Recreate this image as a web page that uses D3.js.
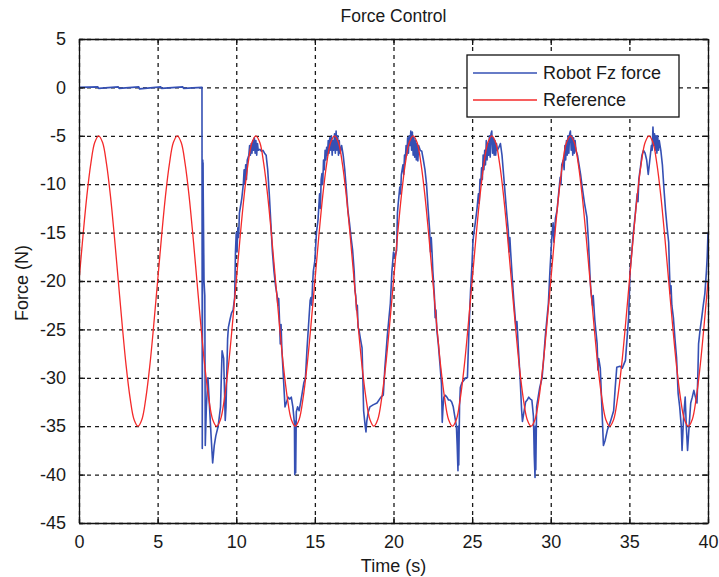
<!DOCTYPE html>
<html>
<head>
<meta charset="utf-8">
<script src="https://cdn.jsdelivr.net/npm/d3@7"></script>
<style>
  html, body { margin: 0; padding: 0; background: #fff; }
  svg { display: block; font-family: "Liberation Sans", Arial, sans-serif; }
</style>
</head>
<body>
<svg id="chart" width="719" height="577"></svg>
<script>
// ---------- data ----------
const xTicks = [0, 5, 10, 15, 20, 25, 30, 35, 40];
const yTicks = [5, 0, -5, -10, -15, -20, -25, -30, -35, -40, -45];
const seriesNames = ["Robot Fz force", "Reference"];

// Reference force, sampled every 0.25 s from 0 to 40 s
const refStep = 0.25;
const refValues = [
  -20, -15.4, -11.2, -7.9, -5.7, -5, -5.7, -7.9, -11.2, -15.4, -20, -24.6, -28.8, -32.1, -34.3, -35, -34.3, -32.1, -28.8, -24.6,
  -20, -15.4, -11.2, -7.9, -5.7, -5, -5.7, -7.9, -11.2, -15.4, -20, -24.6, -28.8, -32.1, -34.3, -35, -34.3, -32.1, -28.8, -24.6,
  -20, -15.4, -11.2, -7.9, -5.7, -5, -5.7, -7.9, -11.2, -15.4, -20, -24.6, -28.8, -32.1, -34.3, -35, -34.3, -32.1, -28.8, -24.6,
  -20, -15.4, -11.2, -7.9, -5.7, -5, -5.7, -7.9, -11.2, -15.4, -20, -24.6, -28.8, -32.1, -34.3, -35, -34.3, -32.1, -28.8, -24.6,
  -20, -15.4, -11.2, -7.9, -5.7, -5, -5.7, -7.9, -11.2, -15.4, -20, -24.6, -28.8, -32.1, -34.3, -35, -34.3, -32.1, -28.8, -24.6,
  -20, -15.4, -11.2, -7.9, -5.7, -5, -5.7, -7.9, -11.2, -15.4, -20, -24.6, -28.8, -32.1, -34.3, -35, -34.3, -32.1, -28.8, -24.6,
  -20, -15.4, -11.2, -7.9, -5.7, -5, -5.7, -7.9, -11.2, -15.4, -20, -24.6, -28.8, -32.1, -34.3, -35, -34.3, -32.1, -28.8, -24.6,
  -20, -15.4, -11.2, -7.9, -5.7, -5, -5.7, -7.9, -11.2, -15.4, -20, -24.6, -28.8, -32.1, -34.3, -35, -34.3, -32.1, -28.8, -24.6,
  -20
];

// Measured robot Fz force: [time (s), force (N)]
const robotForce = [
  [0,0],[1.2,0.05],[1.25,-0.1],[2.5,0.05],[2.55,-0.1],[3.8,0.05],[3.85,-0.15],[5.2,0.05],[5.25,-0.1],[6.6,0.05],[6.65,-0.1],[7.82,0],
  [7.84,-37.3],[7.86,-12],[7.87,-7.5],[7.88,-12.2],[7.89,-7.8],[7.9,-11],[7.95,-20],[8.0,-21.5],[8.03,-37],
  [8.1,-33],[8.2,-30],[8.3,-33],[8.4,-36],[8.5,-38.8],[8.6,-37],[8.7,-36],[8.85,-35],[9.0,-33],[9.05,-30],[9.1,-27.2],
  [9.2,-28],[9.3,-34.4],[9.35,-33],[9.45,-26],[9.5,-24.8],[9.6,-24],[9.7,-23.3],[9.8,-23],[9.9,-21.7],[9.95,-17],
  [10.0,-15],[10.05,-17],[10.1,-14.5],[10.15,-15.5],[10.2,-13],[10.3,-12],[10.35,-11.5],[10.45,-10],[10.5,-8.5],[10.55,-10],
  [10.6,-8],[10.65,-9.5],[10.7,-7.5],[10.8,-7],[10.85,-6],[10.9,-7],[10.95,-5.8],[11.0,-6.8],[11.05,-5.5],[11.1,-6.5],
  [11.15,-5.2],[11.2,-6.8],[11.25,-5.5],[11.3,-7],[11.35,-5.8],[11.4,-6.5],[11.5,-6.4],[11.6,-6.6],[11.7,-6.5],[11.8,-6.8],
  [11.9,-7],[12.0,-8.5],[12.1,-11],[12.2,-14],[12.3,-17],[12.4,-19],[12.5,-20.5],[12.6,-21.5],[12.65,-22.5],[12.7,-21.8],
  [12.75,-24],[12.8,-26.5],[12.85,-24.5],[12.9,-27],[13.0,-30],[13.1,-33],[13.2,-32.5],[13.3,-32],[13.4,-32.2],[13.5,-32],
  [13.6,-33],[13.7,-34.7],[13.72,-40],[13.75,-34.5],[13.78,-39.8],[13.82,-33.5],[13.9,-33],[14.0,-33.4],[14.1,-32.5],
  [14.2,-31.5],[14.3,-30.5],[14.4,-30],[14.5,-27],[14.6,-24.5],[14.7,-22],[14.75,-21.7],[14.8,-22.5],[14.85,-20.5],
  [14.9,-19],[15.0,-17.9],[15.1,-15],[15.2,-13.7],[15.3,-11],[15.35,-12.5],[15.4,-9.5],[15.45,-8.9],[15.5,-10],[15.55,-7.5],
  [15.6,-8.5],[15.65,-6.5],[15.7,-7.5],[15.75,-6.2],[15.8,-7],[15.85,-5.5],[15.9,-6.8],[15.95,-5.2],[16.0,-6.5],[16.05,-5],
  [16.1,-7],[16.15,-5.5],[16.2,-6.5],[16.25,-4.8],[16.3,-6.8],[16.35,-4.5],[16.4,-6.5],[16.45,-5],[16.5,-7],[16.55,-5.5],
  [16.6,-6.8],[16.7,-6],[16.8,-7],[16.9,-8.5],[17.0,-10.5],[17.1,-12.7],[17.2,-14],[17.3,-15.5],[17.4,-16.8],[17.5,-19],
  [17.55,-21],[17.6,-21.5],[17.65,-23],[17.7,-22.5],[17.75,-24.8],[17.8,-25],[17.9,-26],[18.0,-26.9],[18.05,-30],[18.1,-33.4],
  [18.2,-35],[18.25,-35.6],[18.3,-34.5],[18.4,-33.5],[18.5,-33],[18.7,-32.8],[18.95,-32.6],[19.2,-32],[19.35,-31.8],
  [19.45,-29],[19.6,-25.8],[19.7,-24],[19.8,-22.3],[19.9,-19],[20.0,-17],[20.1,-17.5],[20.2,-16.8],[20.25,-13],[20.3,-12],
  [20.4,-10.3],[20.45,-11],[20.5,-9],[20.6,-8],[20.65,-9],[20.7,-7],[20.75,-7.5],[20.8,-6],[20.85,-7],[20.9,-5.2],
  [20.95,-6.8],[21.0,-5],[21.05,-6],[21.1,-4.5],[21.15,-6.5],[21.2,-4.6],[21.25,-7],[21.3,-5.2],[21.35,-7.2],[21.4,-5.5],
  [21.45,-7.5],[21.5,-5.8],[21.55,-7.6],[21.6,-6],[21.7,-6.5],[21.8,-6.6],[21.9,-7.5],[22.0,-8.5],[22.1,-10],[22.2,-12.5],
  [22.3,-14.8],[22.35,-17],[22.4,-15.5],[22.45,-17],[22.5,-18.9],[22.6,-21.5],[22.65,-23.8],[22.7,-23],[22.75,-25],
  [22.85,-26.5],[22.95,-28.5],[23.05,-30.6],[23.1,-34.6],[23.15,-33],[23.2,-32],[23.3,-31.8],[23.4,-32],[23.5,-32.3],
  [23.6,-32.3],[23.7,-32.5],[23.8,-33],[23.9,-34],[24.0,-35],[24.05,-37],[24.1,-39.6],[24.12,-35],[24.15,-39],[24.2,-33],
  [24.25,-31],[24.35,-30.5],[24.5,-30.2],[24.6,-30],[24.7,-30],[24.8,-25],[24.9,-21],[25.0,-18],[25.05,-16],[25.1,-15.2],
  [25.2,-14],[25.3,-12.7],[25.4,-11],[25.45,-12],[25.5,-9.5],[25.55,-10],[25.6,-8.3],[25.65,-9.5],[25.7,-7],[25.75,-8.5],
  [25.8,-6.5],[25.85,-8],[25.9,-5.5],[25.95,-7.5],[26.0,-5.8],[26.05,-7],[26.1,-5],[26.15,-7.2],[26.2,-4.8],[26.25,-4.5],
  [26.3,-6.8],[26.35,-5.2],[26.4,-7],[26.45,-5.5],[26.5,-7],[26.55,-5.8],[26.6,-6.5],[26.7,-6.2],[26.8,-5.8],[26.9,-7],
  [27.0,-9],[27.1,-11],[27.2,-13],[27.3,-14.8],[27.35,-17],[27.4,-15.5],[27.45,-17],[27.55,-19.6],[27.65,-22],[27.75,-24],
  [27.8,-25],[27.85,-24.2],[27.95,-27.2],[28.05,-30],[28.15,-33.4],[28.2,-34.5],[28.3,-33.5],[28.4,-32.5],[28.5,-32.3],
  [28.6,-32],[28.7,-32.2],[28.8,-32.3],[28.9,-34],[28.95,-38],[29.0,-40.3],[29.02,-35],[29.05,-39.5],[29.1,-33],[29.2,-32],
  [29.3,-31],[29.45,-30],[29.55,-28],[29.65,-25.8],[29.75,-24],[29.85,-22.3],[29.95,-18.9],[30.05,-16],[30.1,-14.8],
  [30.15,-14],[30.2,-16],[30.3,-13.5],[30.4,-12.7],[30.5,-11],[30.6,-9.3],[30.65,-10],[30.7,-8],[30.8,-7.5],[30.85,-8.5],
  [30.9,-6],[30.95,-7.5],[31.0,-5.5],[31.05,-7],[31.1,-5],[31.15,-6.8],[31.2,-4.8],[31.25,-4.5],[31.3,-6.5],[31.35,-5],
  [31.4,-7],[31.45,-5.2],[31.5,-6.8],[31.55,-5.5],[31.6,-6.5],[31.7,-7],[31.8,-8],[31.9,-9],[32.0,-10.3],[32.15,-12],
  [32.3,-13.4],[32.4,-16],[32.5,-19.6],[32.55,-21],[32.6,-21.7],[32.65,-22.5],[32.7,-21.5],[32.8,-24],[32.95,-26.5],
  [33.0,-29.2],[33.05,-28],[33.15,-29],[33.25,-33],[33.35,-37],[33.45,-36.5],[33.6,-35.4],[33.8,-34.5],[34.0,-33.4],
  [34.1,-31],[34.2,-28.9],[34.4,-28.8],[34.55,-29],[34.75,-28.2],[34.85,-26],[34.95,-23.8],[35.05,-18.9],[35.15,-17],
  [35.25,-15.1],[35.35,-13.5],[35.5,-11],[35.55,-11.8],[35.6,-9.5],[35.7,-8.3],[35.8,-7],[35.9,-6.5],[36.0,-6.8],
  [36.1,-7.5],[36.2,-9],[36.3,-7.5],[36.4,-6],[36.45,-6.5],[36.5,-4.1],[36.55,-6],[36.6,-4.8],[36.65,-6.5],[36.7,-5],
  [36.75,-6.8],[36.8,-5],[36.85,-6.5],[36.9,-5.5],[37.0,-6.5],[37.1,-8],[37.2,-10.5],[37.3,-12.7],[37.4,-14.5],[37.5,-16],
  [37.55,-19],[37.6,-21.3],[37.65,-20.5],[37.7,-22.5],[37.8,-23.8],[37.9,-26],[38.0,-27.9],[38.1,-31.6],[38.2,-33],
  [38.3,-35],[38.35,-37.5],[38.45,-34],[38.55,-32],[38.62,-35],[38.7,-37.5],[38.8,-35],[38.9,-32.6],[39.0,-32],
  [39.1,-31.3],[39.2,-32],[39.3,-32.6],[39.35,-30],[39.4,-26.5],[39.5,-25],[39.6,-23.8],[39.7,-22.5],[39.8,-21.3],
  [39.9,-19],[39.95,-17.5],[40.0,-15]
];

// ---------- layout ----------
const W = 719, H = 577;
const margin = { left: 79, top: 39, right: 11, bottom: 54 };
const pw = W - margin.left - margin.right;   // 629
const ph = H - margin.top - margin.bottom;   // 484
const blue = "#3550b4", red = "#f42a2a";
const tickFont = 18, labelFont = 18, titleFont = 17.5;

const svg = d3.select("#chart");
const g = svg.append("g").attr("transform", `translate(${margin.left},${margin.top})`);

const x = d3.scaleLinear().domain([0, 40]).range([0, pw]);
const y = d3.scaleLinear().domain([-45, 5]).range([ph, 0]);
const fmt = d => String(d);   // plain hyphen-minus like the original

// grid
const grid = g.append("g").attr("class", "grid");
grid.append("g").attr("transform", `translate(0,${ph})`)
  .call(d3.axisBottom(x).tickValues(xTicks).tickSize(-ph).tickFormat(""))
  .call(s => s.select(".domain").remove())
  .selectAll("line").attr("stroke", "#1a1a1a").attr("stroke-dasharray", "4,4").attr("stroke-width", 1.3);
grid.append("g")
  .call(d3.axisLeft(y).tickValues(yTicks).tickSize(-pw).tickFormat(""))
  .call(s => s.select(".domain").remove())
  .selectAll("line").attr("stroke", "#1a1a1a").attr("stroke-dasharray", "4,4").attr("stroke-width", 1.3);

// clip
svg.append("defs").append("clipPath").attr("id", "clip")
  .append("rect").attr("width", pw).attr("height", ph);

// reference line
const refData = refValues.map((v, i) => [i * refStep, v]);
const lineRef = d3.line().x(d => x(d[0])).y(d => y(d[1])).curve(d3.curveCatmullRom);
const lineRobot = d3.line().x(d => x(d[0])).y(d => y(d[1]));

const plot = g.append("g").attr("clip-path", "url(#clip)");
plot.append("path").datum(robotForce)
  .attr("d", lineRobot).attr("fill", "none").attr("stroke", blue).attr("stroke-width", 1.6)
  .attr("stroke-linejoin", "round");
plot.append("path").datum(refData)
  .attr("d", lineRef).attr("fill", "none").attr("stroke", red).attr("stroke-width", 1.3);

// axes (ticks inward on all four sides)
const axStyle = s => {
  s.select(".domain").attr("stroke", "#111").attr("stroke-width", 1.3);
  s.selectAll(".tick line").attr("stroke", "#111").attr("stroke-width", 1.3);
  s.selectAll("text").attr("font-size", tickFont).attr("fill", "#1a1a1a")
    .attr("font-family", "Liberation Sans, Arial, sans-serif");
};
g.append("g").attr("transform", `translate(0,${ph})`)
  .call(d3.axisBottom(x).tickValues(xTicks).tickSizeInner(-6).tickSizeOuter(0).tickPadding(12).tickFormat(fmt))
  .call(axStyle);
g.append("g")
  .call(d3.axisTop(x).tickValues(xTicks).tickSizeInner(-6).tickSizeOuter(0).tickFormat(""))
  .call(axStyle);
g.append("g")
  .call(d3.axisLeft(y).tickValues(yTicks).tickSizeInner(-6).tickSizeOuter(0).tickPadding(13).tickFormat(fmt))
  .call(axStyle);
g.append("g").attr("transform", `translate(${pw},0)`)
  .call(d3.axisRight(y).tickValues(yTicks).tickSizeInner(-6).tickSizeOuter(0).tickFormat(""))
  .call(axStyle);

// titles
svg.append("text").attr("x", margin.left + pw / 2).attr("y", 22)
  .attr("text-anchor", "middle").attr("font-size", titleFont).attr("fill", "#1a1a1a").text("Force Control");
svg.append("text").attr("x", margin.left + pw / 2).attr("y", 572)
  .attr("text-anchor", "middle").attr("font-size", labelFont).attr("fill", "#1a1a1a").text("Time (s)");
svg.append("text").attr("transform", `translate(28,${margin.top + ph / 2 + 2}) rotate(-90)`)
  .attr("text-anchor", "middle").attr("font-size", labelFont).attr("fill", "#1a1a1a").text("Force (N)");

// legend
const lg = svg.append("g").attr("transform", "translate(467,55)");
lg.append("rect").attr("width", 212).attr("height", 62).attr("fill", "#fff")
  .attr("stroke", "#111").attr("stroke-width", 1.3);
const legendColors = [blue, red];
seriesNames.forEach((name, i) => {
  const yy = 18 + i * 27;
  lg.append("line").attr("x1", 6).attr("x2", 70).attr("y1", yy).attr("y2", yy)
    .attr("stroke", legendColors[i]).attr("stroke-width", 1.5);
  lg.append("text").attr("x", 76).attr("y", yy + 6).attr("font-size", labelFont)
    .attr("fill", "#1a1a1a").text(name);
});
</script>
</body>
</html>
